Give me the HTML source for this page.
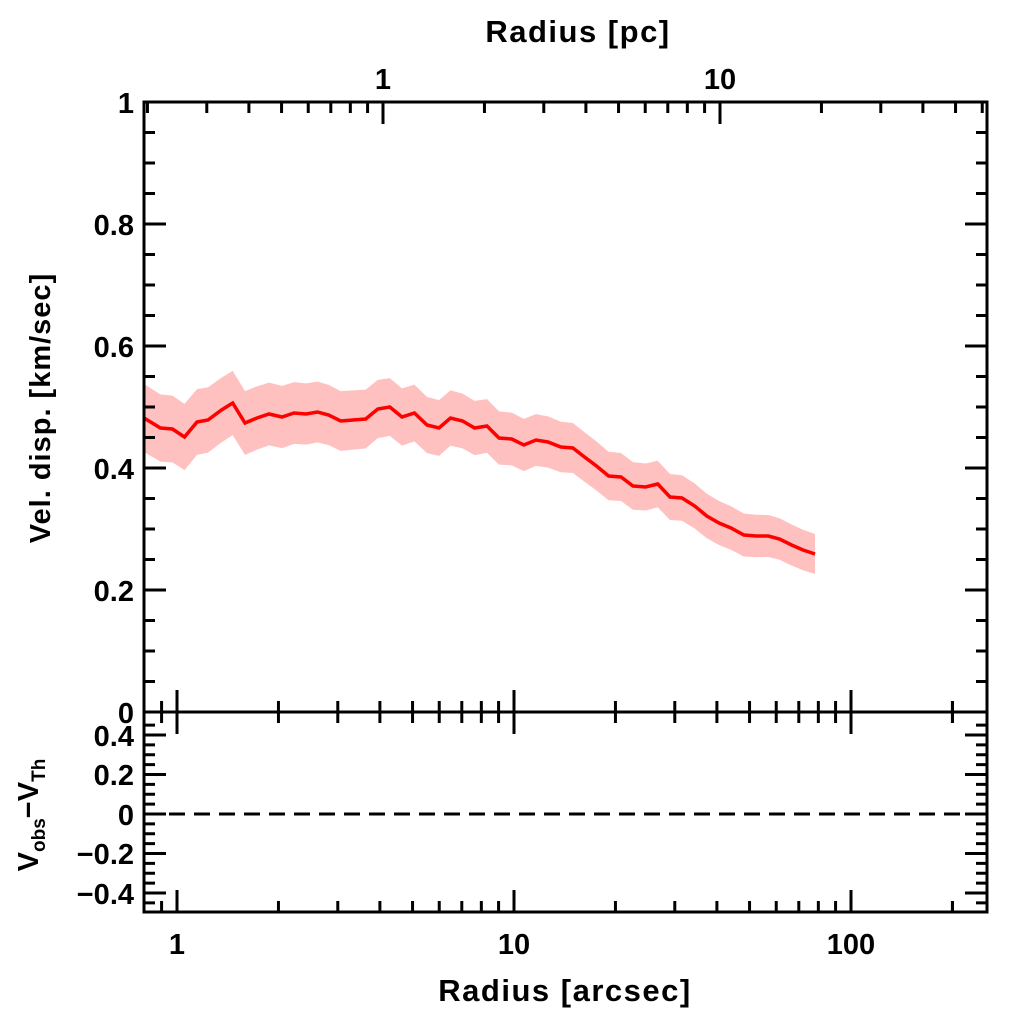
<!DOCTYPE html>
<html><head><meta charset="utf-8"><style>
html,body{margin:0;padding:0;background:#fff;width:1024px;height:1024px;overflow:hidden}
svg{display:block}
text{font-family:"Liberation Sans",sans-serif;font-weight:bold;fill:#000}
</style></head><body>
<svg id="s" width="1024" height="1024" viewBox="0 0 1024 1024" xmlns="http://www.w3.org/2000/svg">
<g id="band"></g>
<g id="ticks" stroke="#000" stroke-width="3" fill="none"></g>
<rect x="144" y="102" width="843" height="810" fill="none" stroke="#000" stroke-width="3"/>
<line x1="144" y1="712" x2="987" y2="712" stroke="#000" stroke-width="3"/>
<line x1="144" y1="814" x2="987" y2="814" stroke="#000" stroke-width="3" stroke-dasharray="16,9"/>
<g font-size="29">
<text x="134" y="113" text-anchor="end">1</text>
<text x="134" y="235" text-anchor="end">0.8</text>
<text x="134" y="357" text-anchor="end">0.6</text>
<text x="134" y="479" text-anchor="end">0.4</text>
<text x="134" y="601" text-anchor="end">0.2</text>
<text x="134" y="723" text-anchor="end">0</text>
<text x="134" y="746" text-anchor="end">0.4</text>
<text x="134" y="785" text-anchor="end">0.2</text>
<text x="134" y="825" text-anchor="end">0</text>
<text x="134" y="864" text-anchor="end">−0.2</text>
<text x="134" y="904" text-anchor="end">−0.4</text>
<text x="177" y="954" text-anchor="middle">1</text>
<text x="514" y="954" text-anchor="middle">10</text>
<text x="851" y="954" text-anchor="middle">100</text>
<text x="383" y="89" text-anchor="middle">1</text>
<text x="720" y="89" text-anchor="middle">10</text>
</g>
<g font-size="31">
<text x="578" y="42" text-anchor="middle" letter-spacing="1.5">Radius [pc]</text>
<text x="565" y="1001" text-anchor="middle" letter-spacing="1.5">Radius [arcsec]</text>
<text transform="translate(50,408) rotate(-90)" text-anchor="middle" font-size="29" letter-spacing="1">Vel. disp. [km/sec]</text>
<text transform="translate(38,815) rotate(-90)" text-anchor="middle" font-size="29">V<tspan font-size="19" dy="7">obs</tspan><tspan dy="-7">−V</tspan><tspan font-size="19" dy="7">Th</tspan></text>
</g>
</svg>
<script>
var NS="http://www.w3.org/2000/svg";
var T=document.getElementById("ticks");
function L(x1,y1,x2,y2){var l=document.createElementNS(NS,"line");l.setAttribute("x1",x1);l.setAttribute("y1",y1);l.setAttribute("x2",x2);l.setAttribute("y2",y2);T.appendChild(l);}
var X0=144,X1=987,dec=337;
function xa(v){return 177+dec*Math.log10(v);}
function xp(v){return 383+dec*Math.log10(v);}
var av=[0.8,0.9];for(var d=1;d<=100;d*=10)for(var k=1;k<=9;k++)av.push(k*d);av.push(200);
av.forEach(function(v){var x=xa(v);if(x<X0+1||x>X1-1)return;var maj=(v==1||v==10||v==100);var len=maj?22:11;
L(x,912,x,912-len);L(x,712-len,x,712+len);});
var pv=[];[0.1,1,10].forEach(function(d){for(var k=1;k<=9;k++)pv.push(k*d);});
pv.forEach(function(v){var x=xp(v);if(x<X0+1||x>X1-1)return;var maj=(Math.abs(v-1)<1e-9||Math.abs(v-10)<1e-9);L(x,102,x,102+(maj?22:11));});
for(var i=1;i<20;i++){var y=712-i*30.5;var maj=(i%4==0);var len=maj?22:11;L(X0,y,X0+len,y);L(X1,y,X1-len,y);}
for(var i=-9;i<=9;i++){var y=814-i*9.875;if(y<714||y>910)continue;var maj=(i%4==0);var len=maj?22:11;L(X0,y,X0+len,y);L(X1,y,X1-len,y);}
var xs=[144,160.4,172.4,184.5,197,208,221.5,232.7,245,257,269,282,294,306,317.5,328.7,340.7,353,365.7,377.8,389.8,402,414.4,427,439,450.5,462.6,474.6,487,499,511.7,523.8,536,548,560.8,572.9,584.5,596.5,608.6,621,633,645.6,657.7,670,682,694.7,706.8,719,731,743.8,756,768.4,779.5,791.6,803,815];
var ys=[418,428,429,437,422,420,410,403,423,418,414,417,413,414,412,415,421,420,419,409,407,417,413,425,428,418,421,428,426,438,439,445,440,442,447,448,457,466,476,477,486,487,484,497,498,506,516,523,528,535,536,536,539,545,550,554];
var up=[],lo=[],ln=[];
for(var i=0;i<xs.length;i++){var h=34-14*(xs[i]-144)/671;up.push(xs[i]+","+(ys[i]-h));lo.unshift(xs[i]+","+(ys[i]+h));ln.push(xs[i]+","+ys[i]);}
var B=document.getElementById("band");
var p=document.createElementNS(NS,"polygon");p.setAttribute("points",up.concat(lo).join(" "));p.setAttribute("fill","#ffc0c0");B.appendChild(p);
var pl=document.createElementNS(NS,"polyline");pl.setAttribute("points",ln.join(" "));pl.setAttribute("fill","none");pl.setAttribute("stroke","#f00");pl.setAttribute("stroke-width","3.5");B.appendChild(pl);
</script>
</body></html>
